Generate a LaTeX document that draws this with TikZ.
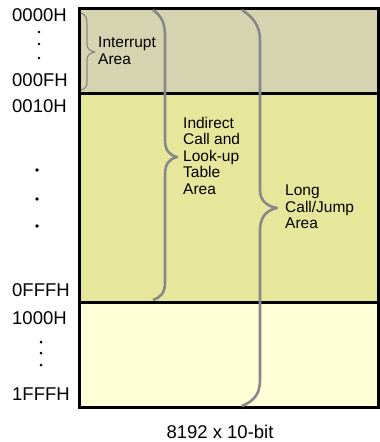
\documentclass[tikz,border=0pt]{standalone}
\usepackage{fontspec}
\setmainfont{Liberation Sans}
\definecolor{MEMtan}{RGB}{214,211,176}
\definecolor{MEMolive}{RGB}{231,231,155}
\definecolor{MEMcream}{RGB}{255,255,215}
\definecolor{MEMgray}{RGB}{136,136,136}
\usetikzlibrary{calc}
\tikzset{
   addr/.style={anchor=west, inner sep=0pt, font=\fontsize{18.5}{19}\selectfont},
   area/.style={anchor=north west, inner sep=0pt, align=left, font=\fontsize{15.5}{16.5}\selectfont},
   brace/.style={MEMgray, line width=2.6pt, line join=round},
   dot/.style={circle, fill=black, inner sep=0pt, minimum size=3pt}
}
\begin{document}
\begin{tikzpicture}[x=1pt, y=-1pt]
      \useasboundingbox (0,0) rectangle (380,442);
      % Memory blocks
      \fill[MEMtan] (79,8) rectangle (378,93);
      \fill[MEMolive] (79,93) rectangle (378,302);
      \fill[MEMcream] (79,302) rectangle (378,407);
      \draw[line width=3pt] (79,93) -- (378,93);
      \draw[line width=3pt] (79,302) -- (378,302);
      \draw[line width=3pt] (79,8) rectangle (378,407);
      % Addresses
      \node[addr] (a0000) at (12,15) {0000H};
      \node[addr] (a000F) at (12,80) {000FH};
      \node[addr] (a0010) at (12,106) {0010H};
      \node[addr] (a0FFF) at (12,290) {0FFFH};
      \node[addr] (a1000) at (12,318) {1000H};
      \node[addr] (a1FFF) at (12,394) {1FFFH};
      % Dots
      \foreach \y in {32,44,58} \node[dot, minimum size=2.6pt] at (39,\y) {};
      \foreach \y in {170,199,226} \node[dot, minimum size=3.6pt] at (37,\y) {};
      \foreach \y in {342,353,365} \node[dot, minimum size=3pt] at (41,\y) {};
      % Interrupt brace
      \draw[brace, line width=1.2pt] (81,13) .. controls (86,15) and (87,18) .. (87,24) -- (87,44)
         .. controls (87,49) and (90,51) .. (95,52) .. controls (90,53) and (87,55) .. (87,60)
         -- (87,82) .. controls (87,87) and (85,89) .. (81,90);
      \node[area] (intr) at (98,37) {Interrupt\\Area};
      % Indirect call brace
      \draw[brace] (153,10) .. controls (162,16) and (165,24) .. (165,36) -- (165,140)
         .. controls (165,150) and (169,155) .. (177,157) .. controls (169,159) and (165,164) .. (165,175)
         -- (165,282) .. controls (165,293) and (161,297) .. (153,300);
      \node[area] (indir) at (183,117) {Indirect\\Call and\\Look-up\\Table\\Area};
      % Long call brace
      \draw[brace] (242,10) .. controls (253,17) and (260,26) .. (260,40) -- (260,190)
         .. controls (260,200) and (266,206) .. (277,208) .. controls (266,210) and (260,218) .. (260,230)
         -- (260,380) .. controls (260,394) and (254,401) .. (242,406);
      \node[area] (long) at (285,185) {Long\\Call/Jump\\Area};
      % Caption
      \node[addr, anchor=center] (size) at (220,432) {8192 x 10-bit};
   \end{tikzpicture}
\end{document}
